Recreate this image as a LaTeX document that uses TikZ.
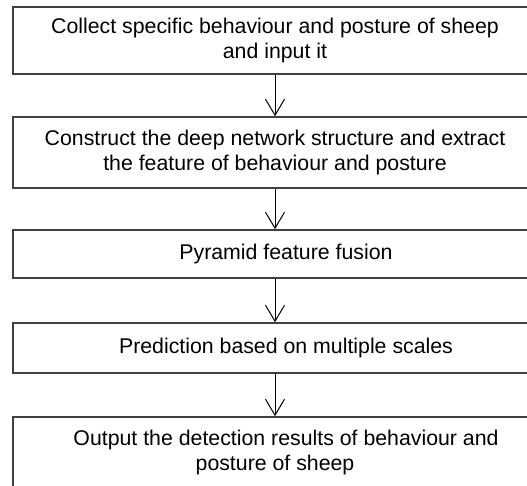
\documentclass[tikz,border=0pt]{standalone}
\usepackage{fontspec}
\setmainfont{Liberation Sans}
\usetikzlibrary{arrows.meta}

\begin{document}
\begin{tikzpicture}[x=1pt, y=-1pt, line width=1.6pt,
  stage/.style={draw=black!75, line width=1.6pt, inner sep=0pt, minimum width=524pt,
    align=center, font=\fontsize{21.3}{25}\selectfont},
  flow/.style={-{Straight Barb[length=16pt, width=19pt]}, line width=1pt, black}]
  \useasboundingbox (0,0) rectangle (527,485);
  \clip (0,0) rectangle (527,485);
  \node[stage, minimum height=67pt] (collect) at (275,40.5)
    {Collect specific behaviour and posture of sheep\\and input it};
  \node[stage, minimum height=71pt] (construct) at (275,152.5)
    {Construct the deep network structure and extract\\the feature of behaviour and posture};
  \node[stage, minimum height=48pt] (fusion) at (275,254)
    {\hspace*{22pt}Pyramid feature fusion};
  \node[stage, minimum height=50pt] (predict) at (275,348)
    {\hspace*{22pt}Prediction based on multiple scales};
  \node[stage, minimum height=70pt] (output) at (275,452)
    {\hspace*{22pt}Output the detection results of behaviour and\\posture of sheep};
  \draw[flow] (collect) -- (construct);
  \draw[flow] (construct) -- (fusion);
  \draw[flow] (fusion) -- (predict);
  \draw[flow] (predict) -- (output);
\end{tikzpicture}
\end{document}
